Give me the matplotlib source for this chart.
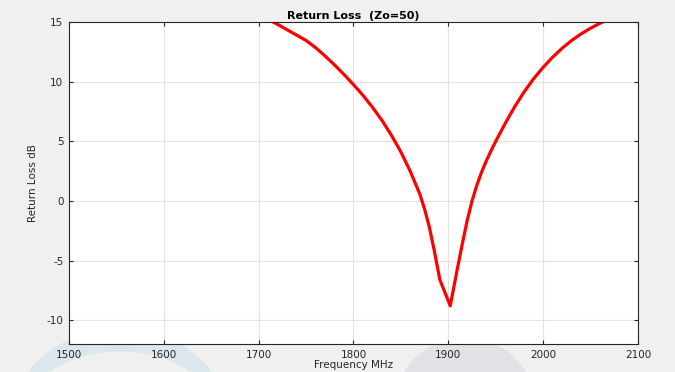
import matplotlib
matplotlib.use("Agg")
import matplotlib.pyplot as plt
from matplotlib.patches import Ellipse, Circle
from matplotlib.transforms import IdentityTransform

plt.rcParams['axes.unicode_minus'] = False

# return loss data
freq = [1700, 1710, 1720, 1730, 1740, 1750, 1760, 1770, 1780, 1790, 1800,
        1810, 1820, 1830, 1840, 1850, 1860, 1870, 1875, 1880, 1885, 1891,
        1896, 1902, 1910, 1915, 1920, 1925, 1930, 1935, 1940, 1945, 1950,
        1960, 1970, 1980, 1990, 2000, 2010, 2020, 2030, 2040, 2050, 2060, 2070]
rl = [15.55, 15.2, 14.8, 14.35, 13.9, 13.45, 12.85, 12.15, 11.4, 10.6, 9.75,
      8.85, 7.85, 6.75, 5.5, 4.1, 2.45, 0.55, -0.7, -2.2, -4.1, -6.6,
      -7.6, -8.8, -5.5, -3.5, -1.6, 0.0, 1.3, 2.4, 3.35, 4.2, 5.0,
      6.5, 7.9, 9.15, 10.25, 11.2, 12.05, 12.8, 13.45, 14.0, 14.48, 14.9, 15.28]

xticks = [1500, 1600, 1700, 1800, 1900, 2000, 2100]
yticks = [-10, -5, 0, 5, 10, 15]

fig = plt.figure(figsize=(6.75, 3.72), dpi=100, facecolor='#f0f0f0')

# faint watermark shapes behind the axes (pixel coords from bottom-left)
fig.patches.append(Ellipse((120, -48), 216, 180, color='#dbe6ed', zorder=-3,
                           transform=IdentityTransform()))
fig.patches.append(Ellipse((120, -48), 196, 136, color='#f0f0f0', zorder=-2,
                           transform=IdentityTransform()))
fig.patches.append(Circle((465, -36), 70, color='#e2e2e6', zorder=-2,
                          transform=IdentityTransform()))

ax = fig.add_axes([0.1022, 0.0753, 0.8430, 0.8656])
ax.set_facecolor('white')

ax.plot(freq, rl, color='#ff0000', linewidth=2.3)

ax.set_xlim(1500, 2100)
ax.set_ylim(-12, 15)
ax.set_xticks(xticks)
ax.set_yticks(yticks)
ax.grid(True, color='#e3e3e3', linewidth=0.8)
ax.tick_params(direction='in', length=3, labelsize=7.5, labelcolor='#262626',
               color='#262626', top=True, right=True, pad=4)
for s in ax.spines.values():
    s.set_color('#262626')
    s.set_linewidth(0.8)

ax.set_title('Return Loss  (Zo=50)', fontsize=8, fontweight='bold', pad=2)
ax.set_xlabel('Frequency MHz', fontsize=7.5, color='#262626', labelpad=0)
ax.set_ylabel('Return Loss dB', fontsize=7.5, color='#262626', labelpad=6,
              family=['Liberation Sans Narrow', 'DejaVu Sans'])

fig.savefig('out.png', dpi=100, facecolor=fig.get_facecolor())
